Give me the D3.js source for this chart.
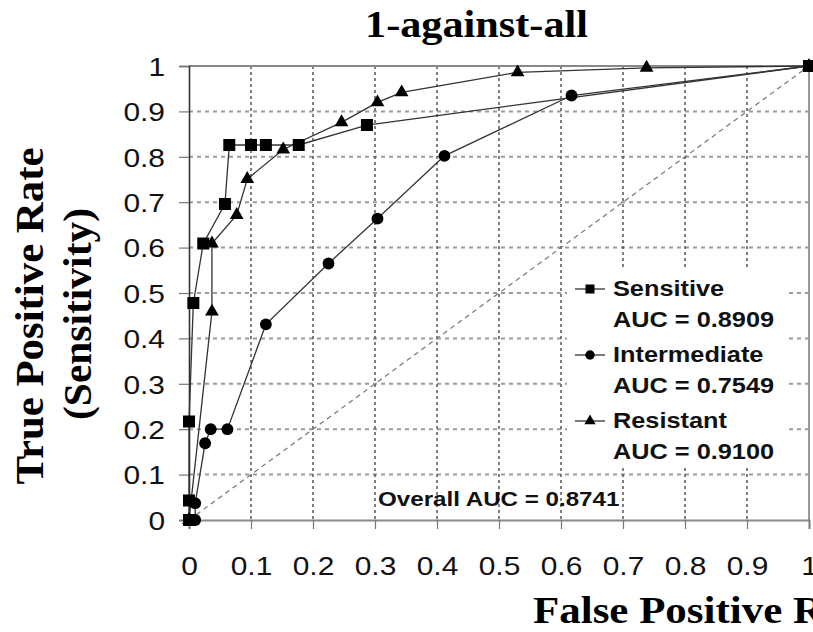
<!DOCTYPE html>
<html>
<head>
<meta charset="utf-8">
<script src="https://cdn.jsdelivr.net/npm/d3@7"></script>
<style>
  html, body { margin: 0; padding: 0; background: #fff; }
  svg { display: block; }
</style>
</head>
<body>
<svg id="chart" width="813" height="632"></svg>
<script>
// ROC points per class (false positive rate, true positive rate)
const sensitiveFpr = [0, 0, 0, 0.007, 0.023, 0.058, 0.065, 0.100, 0.124, 0.177, 0.287, 1];
const sensitiveTpr = [0, 0.043, 0.217, 0.478, 0.609, 0.696, 0.826, 0.826, 0.826, 0.826, 0.870, 1];

const intermediateFpr = [0.010, 0.010, 0.026, 0.035, 0.062, 0.124, 0.225, 0.304, 0.412, 0.617, 1];
const intermediateTpr = [0, 0.037, 0.169, 0.200, 0.200, 0.431, 0.565, 0.664, 0.802, 0.935, 1];

const resistantFpr = [0, 0.037, 0.037, 0.077, 0.094, 0.152, 0.246, 0.304, 0.343, 0.530, 0.738, 1];
const resistantTpr = [0, 0.459, 0.609, 0.672, 0.751, 0.816, 0.876, 0.920, 0.942, 0.986, 0.996, 1];

const seriesNames = ["Sensitive", "Intermediate", "Resistant"];
const seriesAuc = ["0.8909", "0.7549", "0.9100"];
const overallAuc = "0.8741";

const xTicks = [0, 0.1, 0.2, 0.3, 0.4, 0.5, 0.6, 0.7, 0.8, 0.9, 1];
const yTicks = [0, 0.1, 0.2, 0.3, 0.4, 0.5, 0.6, 0.7, 0.8, 0.9, 1];

const titleText = "1-against-all";
const xTitle = "False Positive Rate";
const yTitle1 = "True Positive Rate";
const yTitle2 = "(Sensitivity)";

const svg = d3.select("#chart");
const plotL = 189, plotR = 809, plotT = 66, plotB = 520;
const x = d3.scaleLinear().domain([0, 1]).range([plotL, plotR]);
const y = d3.scaleLinear().domain([0, 1]).range([plotB, plotT]);

const SANS = "'Liberation Sans', Arial, sans-serif";
const SERIF = "'Liberation Serif', 'Times New Roman', serif";
const WIDE = 1.15; // glyphs in this figure are set slightly wide

function widen(sel, k) {
  sel.each(function () {
    const L = this.getComputedTextLength();
    d3.select(this).attr("textLength", L * k).attr("lengthAdjust", "spacingAndGlyphs");
  });
}

// gridlines
const grid = svg.append("g");
grid.selectAll("line.h").data(yTicks.filter(d => d > 0 && d < 1)).join("line")
  .attr("x1", plotL).attr("x2", plotR)
  .attr("y1", d => y(d)).attr("y2", d => y(d))
  .attr("stroke", "#9a9a9a").attr("stroke-width", 2).attr("stroke-dasharray", "4,4");
grid.selectAll("line.v").data(xTicks.filter(d => d > 0 && d < 1)).join("line")
  .attr("y1", plotT).attr("y2", plotB)
  .attr("x1", d => x(d)).attr("x2", d => x(d))
  .attr("stroke", "#555").attr("stroke-width", 1.5).attr("stroke-dasharray", "3,3");

// frame: top and right edges
svg.append("line").attr("x1", plotL).attr("x2", plotR).attr("y1", plotT).attr("y2", plotT)
  .attr("stroke", "#888").attr("stroke-width", 2);
svg.append("line").attr("x1", plotR).attr("x2", plotR).attr("y1", plotT).attr("y2", plotB)
  .attr("stroke", "#999").attr("stroke-width", 2);

// legend background
svg.append("rect").attr("x", 567).attr("y", 268).attr("width", 218).attr("height", 199)
  .attr("fill", "#fff");

// chance diagonal
svg.append("line")
  .attr("x1", x(0)).attr("y1", y(0)).attr("x2", x(1)).attr("y2", y(1))
  .attr("stroke", "#777").attr("stroke-width", 1.2).attr("stroke-dasharray", "5,4");

// axes
const fmt = d => d === 0 || d === 1 ? String(d) : d3.format(".1f")(d);
const xAxis = svg.append("g").attr("transform", `translate(0,${plotB})`)
  .call(d3.axisBottom(x).tickValues(xTicks).tickSize(9).tickPadding(28).tickFormat(fmt));
xAxis.select(".domain").attr("stroke", "#888").attr("stroke-width", 2);
xAxis.selectAll(".tick line").attr("stroke", "#777").attr("stroke-width", 1.2);
xAxis.selectAll(".tick text").attr("font-family", SANS).attr("font-size", 26).attr("fill", "#111");

const yAxis = svg.append("g").attr("transform", `translate(${plotL},0)`)
  .call(d3.axisLeft(y).tickValues(yTicks).tickSize(10).tickPadding(14).tickFormat(fmt));
yAxis.select(".domain").attr("stroke", "#333").attr("stroke-width", 1.6);
yAxis.selectAll(".tick line").attr("stroke", "#777").attr("stroke-width", 1.2);
yAxis.selectAll(".tick text").attr("font-family", SANS).attr("font-size", 26).attr("fill", "#111")
  .attr("dy", "0.36em");
widen(xAxis.selectAll(".tick text"), WIDE);
widen(yAxis.selectAll(".tick text"), WIDE);

// series
const series = [
  { fpr: sensitiveFpr, tpr: sensitiveTpr, symbol: d3.symbolSquare, size: 144, legSize: 81 },
  { fpr: intermediateFpr, tpr: intermediateTpr, symbol: d3.symbolCircle, size: 110, legSize: 70 },
  { fpr: resistantFpr, tpr: resistantTpr, symbol: d3.symbolTriangle, size: 82, legSize: 55 }
];
const line = d3.line().x(d => x(d[0])).y(d => y(d[1]));
series.forEach(s => {
  const pts = s.fpr.map((f, i) => [f, s.tpr[i]]);
  svg.append("path").datum(pts).attr("d", line)
    .attr("fill", "none").attr("stroke", "#333").attr("stroke-width", 1.3);
});
series.forEach(s => {
  const pts = s.fpr.map((f, i) => [f, s.tpr[i]]);
  svg.append("g").selectAll("path").data(pts).join("path")
    .attr("d", d3.symbol().type(s.symbol).size(s.size))
    .attr("transform", d => `translate(${x(d[0])},${y(d[1])})`)
    .attr("fill", "#000");
});

// legend
const legend = svg.append("g");
const legTop = 296, legStep = 66;
series.forEach((s, i) => {
  const by = legTop + i * legStep;
  legend.append("line").attr("x1", 575).attr("x2", 605).attr("y1", by - 7).attr("y2", by - 7)
    .attr("stroke", "#333").attr("stroke-width", 1.3);
  legend.append("path").attr("d", d3.symbol().type(s.symbol).size(s.legSize))
    .attr("transform", `translate(590,${by - 7})`).attr("fill", "#000");
  legend.append("text").attr("x", 613).attr("y", by).text(seriesNames[i]);
  legend.append("text").attr("x", 613).attr("y", by + 31).text("AUC = " + seriesAuc[i]);
});
legend.selectAll("text").attr("font-family", SANS).attr("font-weight", "bold")
  .attr("font-size", 22).attr("fill", "#111");
widen(legend.selectAll("text"), WIDE);

const overall = svg.append("text").attr("x", 378).attr("y", 506)
  .attr("font-family", SANS).attr("font-weight", "bold").attr("font-size", 21).attr("fill", "#111")
  .text("Overall AUC = " + overallAuc);
widen(overall, WIDE);

// titles
const t = svg.append("text").attr("x", 476.5).attr("y", 37).attr("text-anchor", "middle")
  .attr("font-family", SERIF).attr("font-weight", "bold").attr("font-size", 37).attr("fill", "#000")
  .text(titleText);
widen(t, 223 / t.node().getComputedTextLength());

const xt = svg.append("text").attr("x", 533).attr("y", 623)
  .attr("font-family", SERIF).attr("font-weight", "bold").attr("font-size", 38).attr("fill", "#000")
  .text(xTitle);
widen(xt, 1.13);

const yt = svg.append("g").attr("font-family", SERIF).attr("font-weight", "bold")
  .attr("font-size", 41).attr("fill", "#000").attr("text-anchor", "middle");
const yl1 = yt.append("text").attr("transform", "translate(43,316) rotate(-90)").text(yTitle1);
widen(yl1, 337 / yl1.node().getComputedTextLength());
const yl2 = yt.append("text").attr("transform", "translate(91,314) rotate(-90)").text(yTitle2);
widen(yl2, 212 / yl2.node().getComputedTextLength());
</script>
</body>
</html>
